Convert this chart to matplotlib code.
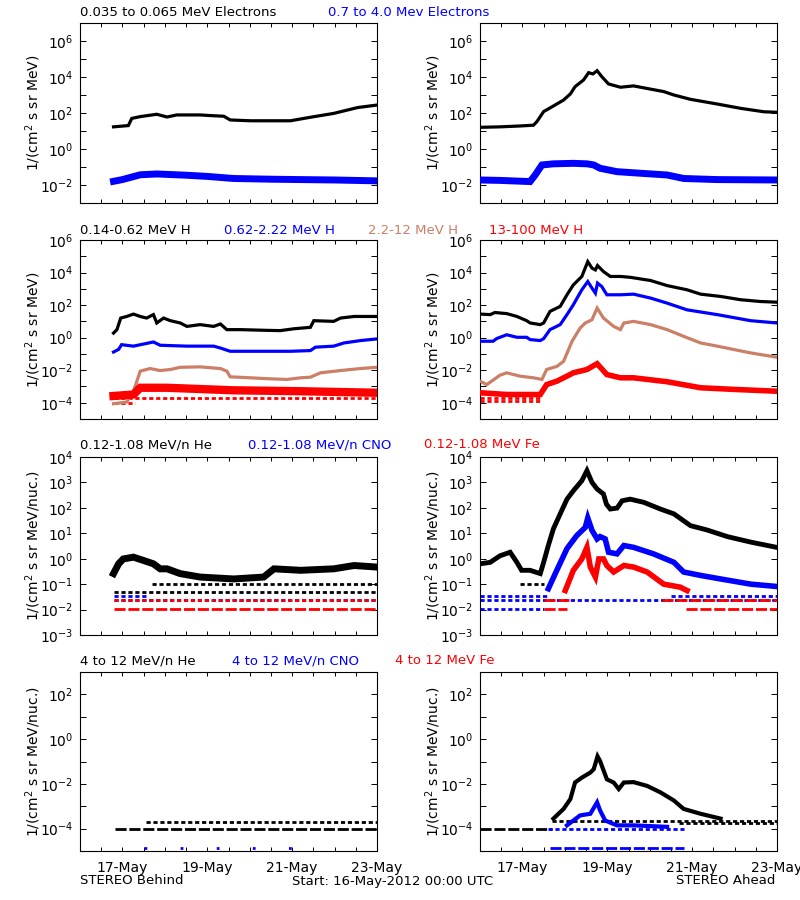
#-*- coding: utf-8 -*-
import math
import matplotlib
matplotlib.use("Agg")
import matplotlib.pyplot as plt

# time axis: days since 16-May-2012 00:00 UTC
day_ticks = [1, 3, 5, 7]
day_labels = ["17-May", "19-May", "21-May", "23-May"]
half_day_ticks = [0.5, 1.5, 2, 2.5, 3.5, 4, 4.5, 5.5, 6, 6.5]

# ---------------- row 1 : electrons ----------------
beh_elo_t = [0.79, 1.14, 1.22, 1.42, 1.81, 2.05, 2.28, 2.83, 3.07, 3.39, 3.54, 4.02, 4.57, 4.96, 5.43, 5.98, 6.54, 6.99]
beh_elo = [17, 20, 50, 63, 85, 60, 78, 78, 72, 66, 41, 37, 37, 37, 58, 95, 200, 275]
beh_ehi_t = [0.79, 1.0, 1.42, 1.81, 2.5, 3.0, 3.62, 4.5, 5.2, 6.0, 6.99]
beh_ehi = [0.016, 0.020, 0.037, 0.041, 0.035, 0.030, 0.023, 0.021, 0.020, 0.019, 0.017]

ahd_elo_t = [0, 0.47, 0.94, 1.26, 1.34, 1.50, 1.73, 1.97, 2.13, 2.24, 2.44, 2.56, 2.66, 2.76, 2.87, 3.03, 3.31,
             3.62, 3.94, 4.33, 4.57, 4.96, 5.59, 6.14, 6.69, 6.99]
ahd_elo = [16, 17, 19, 21, 33, 120, 245, 525, 1150, 2900, 6800, 17400, 14800, 22400, 10500, 4100, 2700,
           3200, 2300, 1550, 1000, 575, 316, 182, 117, 110]
ahd_ehi_t = [0, 0.47, 1.18, 1.30, 1.46, 1.73, 2.20, 2.52, 2.68, 2.83, 3.23, 3.78, 4.41, 4.80, 5.59, 6.99]
ahd_ehi = [0.019, 0.018, 0.0155, 0.036, 0.13, 0.15, 0.16, 0.15, 0.13, 0.085, 0.055, 0.045, 0.036, 0.023, 0.020, 0.019]

# ---------------- row 2 : protons ----------------
beh_h1_t = [0.79, 0.87, 0.96, 1.10, 1.26, 1.42, 1.57, 1.73, 1.81, 1.97, 2.13, 2.36, 2.52, 2.83, 3.15, 3.31, 3.46,
            3.78, 4.41, 4.72, 5.04, 5.43, 5.51, 5.98, 6.14, 6.46, 6.99]
beh_h1 = [1.9, 3.1, 16, 20, 28, 20, 16, 26, 8, 16, 11, 8, 4.9, 6.3, 4.9, 6.9, 3.1, 3.1, 2.8, 2.7, 3.5, 4.3, 11, 10,
          16, 20, 20]
beh_h2_t = [0.79, 0.91, 0.98, 1.26, 1.73, 1.89, 2.52, 3.15, 3.31, 3.54, 4.25, 4.96, 5.43, 5.55, 5.98, 6.22, 6.61, 6.99]
beh_h2 = [0.13, 0.19, 0.37, 0.30, 0.54, 0.34, 0.30, 0.30, 0.23, 0.145, 0.145, 0.145, 0.16, 0.26, 0.30, 0.47, 0.66, 0.83]
beh_h3_t = [0.79, 1.10, 1.26, 1.42, 1.65, 1.89, 2.13, 2.36, 2.83, 3.31, 3.46, 3.54, 4.02, 4.41, 4.88, 5.20, 5.43,
            5.67, 6.14, 6.61, 6.99]
beh_h3 = [8.7e-5, 1.1e-4, 5.1e-4, 8.7e-3, 1.26e-2, 9.5e-3, 1.1e-2, 1.5e-2, 1.6e-2, 1.26e-2, 8.7e-3, 3.9e-3, 3.4e-3,
          3.0e-3, 2.7e-3, 3.4e-3, 3.7e-3, 6.9e-3, 9.5e-3, 1.26e-2, 1.5e-2]
beh_h4_t = [0.79, 1.26, 1.42, 2.05, 3.62, 5.2, 6.99]
beh_h4 = [2.6e-4, 3.2e-4, 8.3e-4, 8.3e-4, 5.8e-4, 5.1e-4, 4.1e-4]

ahd_h1_t = [0, 0.24, 0.35, 0.63, 0.87, 1.10, 1.18, 1.42, 1.50, 1.65, 1.89, 2.05, 2.20, 2.40, 2.54, 2.64, 2.72, 2.77,
            2.91, 3.07, 3.31, 3.54, 4.02, 4.41, 4.88, 5.20, 5.67, 6.14, 6.61, 6.99]
ahd_h1 = [28, 26, 35, 30, 20, 11, 8, 6.3, 8, 41, 83, 430, 1740, 5750, 46800, 18600, 14500, 26900, 11500, 5750,
          5750, 5100, 3240, 1580, 870, 470, 340, 214, 166, 151]
ahd_h2_t = [0, 0.31, 0.39, 0.63, 0.87, 1.10, 1.18, 1.42, 1.50, 1.65, 1.89, 2.05, 2.20, 2.40, 2.54, 2.64, 2.72, 2.77,
            2.87, 2.99, 3.31, 3.62, 4.02, 4.41, 4.88, 5.59, 6.38, 6.99]
ahd_h2 = [0.6, 0.6, 0.87, 1.5, 1.05, 1.05, 0.76, 0.66, 0.87, 3.1, 6.3, 26, 105, 870, 2800, 1100, 540, 2240, 1380,
          430, 430, 470, 270, 132, 51, 26, 11, 8]
ahd_h3_t = [0, 0.16, 0.47, 0.63, 0.94, 1.26, 1.46, 1.57, 1.81, 1.97, 2.17, 2.36, 2.48, 2.64, 2.76, 2.91, 3.15, 3.31,
            3.39, 3.62, 4.02, 4.41, 4.80, 5.20, 5.59, 6.38, 6.99]
ahd_h3 = [2.1e-3, 1.3e-3, 4.9e-3, 6.9e-3, 4.3e-3, 3.4e-3, 2.7e-3, 1.1e-2, 1.7e-2, 3.5e-2, 0.6, 3.9, 7.9, 12.6, 66,
          16, 4.9, 3.1, 7.9, 10, 6.3, 3.1, 1.2, 0.47, 0.30, 0.115, 0.063]
ahd_h4_t = [0, 0.63, 1.42, 1.57, 1.81, 2.05, 2.20, 2.52, 2.76, 2.99, 3.31, 3.62, 4.41, 5.20, 5.98, 6.99]
ahd_h4 = [4.1e-4, 3.2e-4, 3.2e-4, 1.3e-3, 2.1e-3, 4.3e-3, 6.9e-3, 1.1e-2, 2.5e-2, 5.4e-3, 3.4e-3, 3.4e-3, 1.95e-3,
          8.3e-4, 6.6e-4, 5.1e-4]

# ---------------- row 3 : low energy heavy ions ----------------
beh_he_t = [0.79, 0.91, 1.02, 1.26, 1.50, 1.73, 1.89, 2.05, 2.36, 2.83, 3.62, 4.33, 4.57, 5.20, 5.98, 6.46, 6.99]
beh_he = [0.26, 0.63, 0.98, 1.15, 0.85, 0.63, 0.40, 0.40, 0.26, 0.19, 0.16, 0.19, 0.40, 0.35, 0.40, 0.54, 0.47]

ahd_he_t = [0, 0.24, 0.47, 0.71, 0.87, 0.98, 1.18, 1.42, 1.50, 1.61, 1.73, 1.89, 2.05, 2.20, 2.40, 2.52, 2.64, 2.76,
            2.91, 2.98, 3.07, 3.23, 3.35, 3.54, 3.86, 4.25, 4.57, 4.96, 5.35, 5.83, 6.38, 6.99]
ahd_he = [0.63, 0.72, 1.3, 1.8, 0.72, 0.35, 0.35, 0.26, 0.72, 3.3, 15, 58, 220, 470, 1170, 2900, 1000, 550, 350,
          140, 90, 98, 190, 220, 165, 90, 58, 20, 13.5, 7.4, 4.5, 2.8]
ahd_cno_t = [1.61, 1.81, 2.05, 2.28, 2.48, 2.54, 2.64, 2.76, 2.83, 2.95, 3.03, 3.23, 3.39, 3.62, 4.09, 4.57, 4.80,
             5.20, 5.67, 6.38, 6.99]
ahd_cno = [0.066, 0.35, 2.5, 8.1, 17, 40, 13, 6, 7.4, 6, 1.8, 1.55, 3.3, 2.8, 1.55, 0.72, 0.30, 0.22, 0.16, 0.10, 0.081]
ahd_fe_t = [2.01, 2.20, 2.40, 2.52, 2.60, 2.72, 2.80, 2.91, 2.99, 3.15, 3.39, 3.62, 3.94, 4.33, 4.72, 4.88]
ahd_fe = [0.056, 0.35, 0.98, 2.8, 0.47, 0.19, 0.98, 0.98, 0.54, 0.30, 0.54, 0.47, 0.30, 0.10, 0.076, 0.056]

# ---------------- row 4 : high energy heavy ions ----------------
ahd_he4_t = [1.73, 1.97, 2.13, 2.24, 2.40, 2.60, 2.68, 2.77, 2.83, 2.99, 3.15, 3.27, 3.39, 3.62, 3.94, 4.25, 4.57,
             4.80, 5.20, 5.67]
ahd_he4 = [2.8e-4, 7.6e-4, 2.1e-3, 1.15e-2, 1.9e-2, 3.2e-2, 4.5e-2, 0.17, 0.105, 1.6e-2, 1.15e-2, 5.9e-3, 1.15e-2,
           1.2e-2, 8.1e-3, 4.2e-3, 1.8e-3, 7.6e-4, 4.6e-4, 2.8e-4]
ahd_cno4_t = [2.05, 2.36, 2.60, 2.76, 2.83, 2.95, 3.23, 3.62, 4.41]
ahd_cno4 = [1.4e-4, 3.9e-4, 4.6e-4, 1.5e-3, 6.5e-4, 2.3e-4, 1.4e-4, 1.4e-4, 1.2e-4]

# one-count floor levels (level, start, end)
beh_h4_floor = [2.0e-4, 1.0e-4]
beh_h4_floor_t0 = [0.79, 0.79]
beh_h4_floor_t1 = [6.99, 1.3]
ahd_h4_floor = [2.0e-4, 1.2e-4]
ahd_h4_floor_t0 = [0, 0]
ahd_h4_floor_t1 = [1.45, 1.45]

beh_he_floor = [0.1, 0.05]
beh_he_floor_t0 = [1.7, 0.8]
beh_he_floor_t1 = [6.99, 6.99]
beh_cno_floor = [0.035, 0.023]
beh_cno_floor_t0 = [0.8, 0.8]
beh_cno_floor_t1 = [1.6, 6.99]
beh_fe_floor = [0.023, 0.011]
beh_fe_floor_t0 = [0.8, 0.79]
beh_fe_floor_t1 = [6.99, 6.99]

ahd_he_floor = [0.1]
ahd_he_floor_t0 = [0.95]
ahd_he_floor_t1 = [1.5]
ahd_cno_floor = [0.035, 0.035, 0.023, 0.011]
ahd_cno_floor_t0 = [0, 4.5, 0, 0]
ahd_cno_floor_t1 = [1.6, 6.99, 6.99, 1.5]
ahd_fe_floor = [0.023, 0.023, 0.011, 0.011]
ahd_fe_floor_t0 = [1.5, 4.3, 1.5, 4.85]
ahd_fe_floor_t1 = [2.1, 6.99, 2.05, 6.99]

beh_he4_floor = [1.0e-4, 1.9e-4]
beh_he4_floor_t0 = [0.83, 1.55]
beh_he4_floor_t1 = [6.99, 6.99]
beh_cno4_floor = [1.3e-5]
beh_cno4_floor_t0 = [1.5]
beh_cno4_floor_t1 = [5.7]
ahd_he4_floor = [1.0e-4, 2.2e-4, 1.7e-4]
ahd_he4_floor_t0 = [0, 1.7, 4.7]
ahd_he4_floor_t1 = [1.7, 6.99, 6.99]
ahd_cno4_floor = [1.3e-5, 1.0e-4]
ahd_cno4_floor_t0 = [1.65, 1.6]
ahd_cno4_floor_t1 = [4.8, 4.8]

BLACK = "black"
BLUE = "#0000ff"
BROWN = "#cc7f66"
RED = "#ff0000"
FONT = "DejaVu Sans"


def setup_panel(ax, ylim, major, minor, show_dates):
    """Log axes, IDL style inward ticks on all four sides."""
    ax.set_yscale("log")
    ax.set_xlim(0, 7)
    ax.set_ylim(*ylim)
    ax.set_yticks(major)
    ax.set_yticklabels([r"$10^{%d}$" % round(math.log10(v)) for v in major])
    ax.set_yticks(minor, minor=True)
    ax.set_yticklabels([], minor=True)
    ax.set_xticks(day_ticks)
    ax.set_xticks(half_day_ticks, minor=True)
    if show_dates:
        ax.set_xticklabels(day_labels, fontsize=10, family=FONT)
    else:
        ax.set_xticklabels([])
    ax.tick_params(axis="both", which="both", direction="in", top=True, right=True, width=0.7)
    ax.tick_params(axis="x", which="both", length=3, pad=7)
    ax.tick_params(axis="y", which="both", length=4.5, labelsize=10, pad=5)
    for s in ax.spines.values():
        s.set_linewidth(0.8)


def draw_trace(ax, t, y, color, lw):
    ax.plot(t, y, color=color, lw=lw, solid_joinstyle="miter", zorder=3)


def draw_floor(ax, levels, t0, t1, color, style):
    ax.hlines(levels, t0, t1, colors=color, linestyles=style, lw=2, zorder=2)


fig = plt.figure(figsize=[8, 9], dpi=100)
W = 297 / 800.0
cols = [80 / 800.0, 480 / 800.0]
rows = [(23, 203), (240, 419), (457, 635), (672, 851)]
axes = []
for top, bot in rows:
    row = []
    for left in cols:
        row.append(fig.add_axes([left, 1 - bot / 900.0, W, (bot - top) / 900.0]))
    axes.append(row)

dots = (0, (1.5, 1))
dash = (0, (4, 1))

# row 1
for ax in axes[0]:
    setup_panel(ax, (1e-3, 1e7), [1e-2, 1, 1e2, 1e4, 1e6], [1e-3, 1e-1, 10, 1e3, 1e5, 1e7], False)
draw_trace(axes[0][0], beh_elo_t, beh_elo, BLACK, 2.3)
draw_trace(axes[0][0], beh_ehi_t, beh_ehi, BLUE, 5)
draw_trace(axes[0][1], ahd_elo_t, ahd_elo, BLACK, 2.3)
draw_trace(axes[0][1], ahd_ehi_t, ahd_ehi, BLUE, 5)

# row 2
for ax in axes[1]:
    setup_panel(ax, (1e-5, 1e6), [1e-4, 1e-2, 1, 1e2, 1e4, 1e6], [1e-5, 1e-3, 1e-1, 10, 1e3, 1e5], False)
draw_floor(axes[1][0], beh_h4_floor, beh_h4_floor_t0, beh_h4_floor_t1, RED, dots)
draw_trace(axes[1][0], beh_h1_t, beh_h1, BLACK, 2.3)
draw_trace(axes[1][0], beh_h2_t, beh_h2, BLUE, 2.3)
draw_trace(axes[1][0], beh_h3_t, beh_h3, BROWN, 2.3)
draw_trace(axes[1][0], beh_h4_t, beh_h4, RED, 6)
draw_floor(axes[1][1], ahd_h4_floor, ahd_h4_floor_t0, ahd_h4_floor_t1, RED, dots)
draw_trace(axes[1][1], ahd_h1_t, ahd_h1, BLACK, 2.3)
draw_trace(axes[1][1], ahd_h2_t, ahd_h2, BLUE, 2.3)
draw_trace(axes[1][1], ahd_h3_t, ahd_h3, BROWN, 2.3)
draw_trace(axes[1][1], ahd_h4_t, ahd_h4, RED, 4)

# row 3
for ax in axes[2]:
    setup_panel(ax, (1e-3, 1e4), [1e-3, 1e-2, 1e-1, 1, 10, 1e2, 1e3, 1e4], [], False)
draw_floor(axes[2][0], beh_he_floor, beh_he_floor_t0, beh_he_floor_t1, BLACK, dots)
draw_floor(axes[2][0], beh_cno_floor, beh_cno_floor_t0, beh_cno_floor_t1, BLUE, dots)
draw_floor(axes[2][0], beh_fe_floor, beh_fe_floor_t0, beh_fe_floor_t1, RED, [dots, dash])
draw_trace(axes[2][0], beh_he_t, beh_he, BLACK, 5)
draw_floor(axes[2][1], ahd_he_floor, ahd_he_floor_t0, ahd_he_floor_t1, BLACK, dots)
draw_floor(axes[2][1], ahd_cno_floor, ahd_cno_floor_t0, ahd_cno_floor_t1, BLUE, dots)
draw_floor(axes[2][1], ahd_fe_floor, ahd_fe_floor_t0, ahd_fe_floor_t1, RED, dash)
draw_trace(axes[2][1], ahd_he_t, ahd_he, BLACK, 3.5)
draw_trace(axes[2][1], ahd_cno_t, ahd_cno, BLUE, 4)
draw_trace(axes[2][1], ahd_fe_t, ahd_fe, RED, 4)

# row 4
for ax in axes[3]:
    setup_panel(ax, (1e-5, 1e3), [1e-4, 1e-2, 1, 1e2], [1e-5, 1e-3, 1e-1, 10, 1e3], True)
draw_floor(axes[3][0], beh_he4_floor, beh_he4_floor_t0, beh_he4_floor_t1, BLACK, [dash, dots])
draw_floor(axes[3][0], beh_cno4_floor, beh_cno4_floor_t0, beh_cno4_floor_t1, BLUE, (0, (1, 12)))
draw_floor(axes[3][1], ahd_he4_floor, ahd_he4_floor_t0, ahd_he4_floor_t1, BLACK, [dash, dots, dots])
draw_floor(axes[3][1], ahd_cno4_floor, ahd_cno4_floor_t0, ahd_cno4_floor_t1, BLUE, [dash, dots])
draw_trace(axes[3][1], ahd_he4_t, ahd_he4, BLACK, 3)
draw_trace(axes[3][1], ahd_cno4_t, ahd_cno4, BLUE, 3)

# y labels
for (top, bot), lab in zip(rows, ["1/(cm$^2$ s sr MeV)", "1/(cm$^2$ s sr MeV)",
                                  "1/(cm$^2$ s sr MeV/nuc.)", "1/(cm$^2$ s sr MeV/nuc.)"]):
    yc = 1 - (top + bot) / 2.0 / 900.0
    fig.text(33 / 800.0, yc, lab, rotation=90, ha="center", va="center", fontsize=10, family=FONT)
    fig.text(433 / 800.0, yc, lab, rotation=90, ha="center", va="center", fontsize=10, family=FONT)

# row titles
titles = [
    (13, [(80, "0.035 to 0.065 MeV Electrons", BLACK), (328, "0.7 to 4.0 Mev Electrons", BLUE)]),
    (230, [(80, "0.14-0.62 MeV H", BLACK), (224, "0.62-2.22 MeV H", BLUE), (368, "2.2-12 MeV H", BROWN),
           (489, "13-100 MeV H", RED)]),
    (445, [(80, "0.12-1.08 MeV/n He", BLACK), (248, "0.12-1.08 MeV/n CNO", BLUE), (424, "0.12-1.08 MeV Fe", RED)]),
    (661, [(80, "4 to 12 MeV/n He", BLACK), (232, "4 to 12 MeV/n CNO", BLUE), (395, "4 to 12 MeV Fe", RED)]),
]
for y, items in titles:
    for x, txt, c in items:
        fig.text(x / 800.0, 1 - y / 900.0, txt, color=c, ha="left", va="center", fontsize=9.5, family=FONT)

fig.text(80 / 800.0, 1 - 881 / 900.0, "STEREO Behind", ha="left", va="center", fontsize=9.5, family=FONT)
fig.text(292 / 800.0, 1 - 881 / 900.0, "Start: 16-May-2012 00:00 UTC", ha="left", va="center", fontsize=9.5, family=FONT)
fig.text(775 / 800.0, 1 - 881 / 900.0, "STEREO Ahead", ha="right", va="center", fontsize=9.5, family=FONT)

fig.savefig("out.png", dpi=100)
